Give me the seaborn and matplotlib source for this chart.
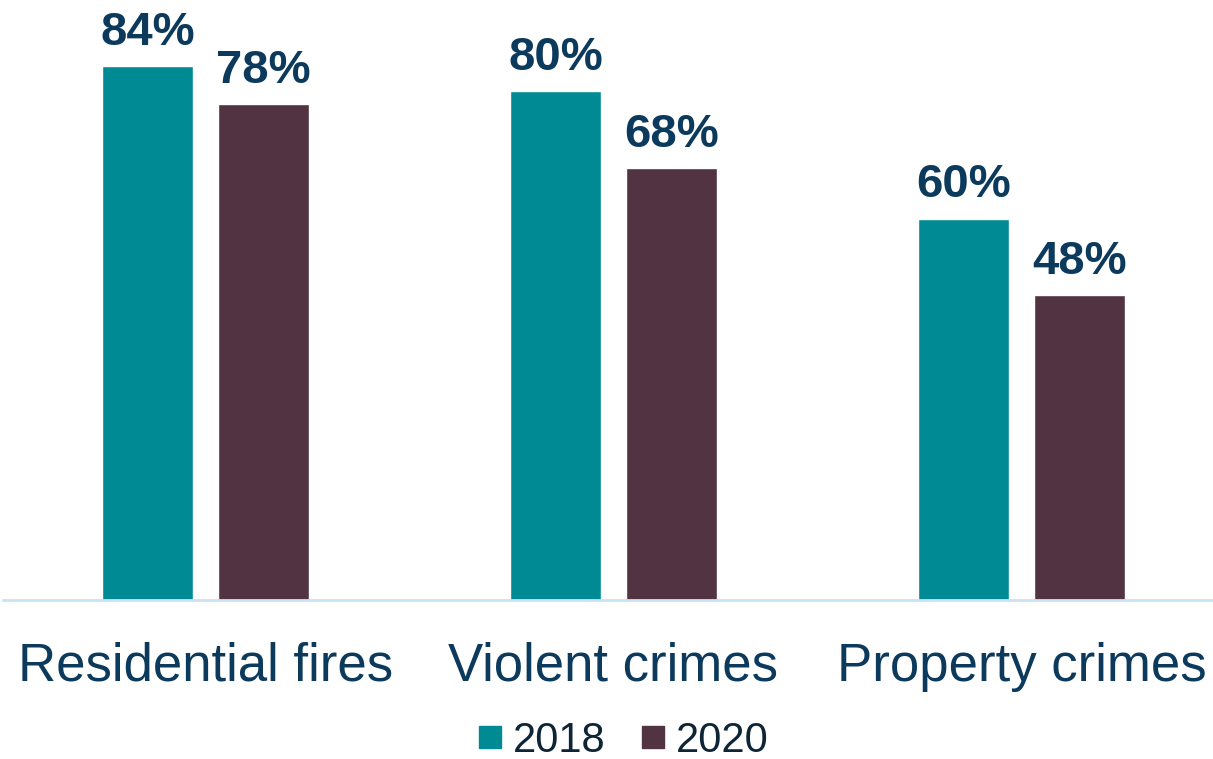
import matplotlib
matplotlib.use("Agg")
import matplotlib.pyplot as plt
from matplotlib.lines import Line2D
import seaborn as sns
import pandas as pd

categories = ["Residential fires", "Violent crimes", "Property crimes"]
years = ["2018", "2020"]
values_2018 = [84, 80, 60]
values_2020 = [78, 68, 48]
colors = ["#008B94", "#513342"]

df = pd.DataFrame({
    "category": categories * 2,
    "year": [years[0]] * 3 + [years[1]] * 3,
    "value": values_2018 + values_2020,
})

sns.set_theme(style="white")
plt.rcParams["font.family"] = ["Liberation Sans", "DejaVu Sans"]

W, H = 1213, 759
fig = plt.figure(figsize=(W / 100, H / 100), dpi=100)
ax = fig.add_axes([3 / W, 1 - 600 / H, (1213 - 3) / W, 600 / H])

sns.barplot(data=df, x="category", y="value", hue="year", order=categories,
            hue_order=years, palette=colors, width=0.569, gap=0.215,
            saturation=1, ax=ax, legend=False)

ax.set_xlim((3 - 205.5) / 408, (1213 - 205.5) / 408)
ax.set_ylim(0, 600 / 6.357)

for container in ax.containers:
    ax.bar_label(container, labels=[f"{v:.0f}%" for v in container.datavalues],
                 padding=8, fontsize=34, fontweight="bold", color="#0C3A5C")

for s in ["top", "right", "left"]:
    ax.spines[s].set_visible(False)
ax.spines["bottom"].set_color("#C8E3F5")
ax.spines["bottom"].set_linewidth(2)
ax.set_yticks([])
ax.set_xlabel("")
ax.set_ylabel("")
ax.tick_params(axis="x", length=0, pad=30, labelsize=38, labelcolor="#0C3A5C")

handles = [Line2D([0], [0], marker="s", linestyle="", markersize=16,
                  markerfacecolor=c, markeredgecolor=c) for c in colors]
fig.legend(handles, years, loc="center", bbox_to_anchor=(620 / W, 1 - 741 / H),
           ncol=2, frameon=False, fontsize=30, handletextpad=0.1,
           columnspacing=0.7, handlelength=0.9, labelcolor="#0E2536")

fig.savefig("out.png", dpi=100)
